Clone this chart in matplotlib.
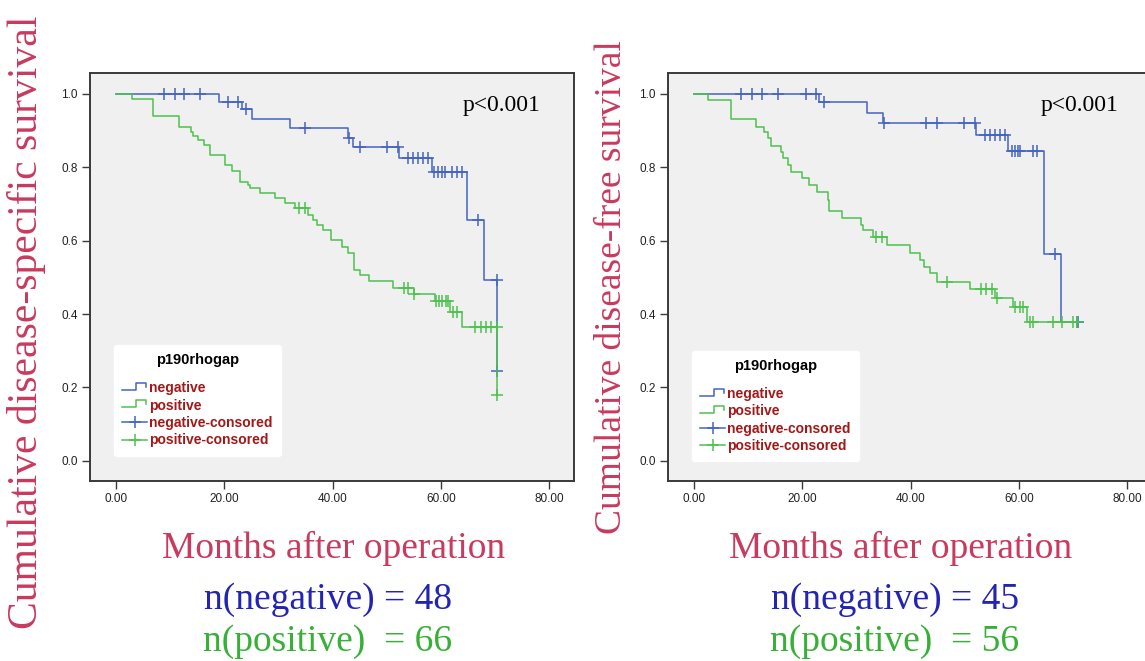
import numpy as np
import matplotlib.pyplot as plt
from matplotlib.legend_handler import HandlerBase
from matplotlib.lines import Line2D

# ---- left panel: disease-specific survival (months, survival after each event)
dss_neg_t = [19.0, 23.2, 25.2, 32.1, 42.9, 43.8, 52.3, 58.3, 64.9, 68.0, 70.4]
dss_neg_s = [0.979, 0.958, 0.931, 0.906, 0.879, 0.854, 0.826, 0.787, 0.657, 0.493, 0.246]
dss_neg_cens = [8.9, 10.9, 12.6, 15.6, 20.7, 22.5, 24.1, 35.0, 43.1, 45.1, 50.0, 52.1,
                54.0, 54.9, 55.8, 56.8, 57.7, 58.7, 59.5, 60.3, 60.8, 62.0, 62.9, 64.0,
                66.9, 70.35, 70.45]

dss_pos_t = [2.9, 6.9, 11.6, 13.9, 14.3, 15.2, 16.3, 17.4, 20.1, 21.4, 22.9, 24.4, 24.8,
             26.6, 29.4, 31.2, 33.1, 35.5, 36.4, 37.1, 38.3, 39.8, 41.7, 42.9, 43.9,
             45.0, 46.8, 51.2, 55.0, 59.0, 61.7, 64.0, 70.4]
dss_pos_s = [0.985, 0.940, 0.910, 0.897, 0.886, 0.875, 0.861, 0.834, 0.806, 0.790, 0.761,
             0.752, 0.743, 0.729, 0.716, 0.702, 0.688, 0.670, 0.656, 0.643, 0.629, 0.602,
             0.584, 0.566, 0.520, 0.507, 0.489, 0.471, 0.455, 0.436, 0.405, 0.364, 0.179]
dss_pos_cens = [33.8, 34.9, 53.2, 53.9, 55.1, 59.1, 59.7, 60.3, 60.9, 61.4, 62.3, 62.9,
                66.3, 67.5, 68.4, 69.2, 70.35, 70.45]

# ---- right panel: disease-free survival
dfs_neg_t = [23.1, 31.9, 35.0, 52.1, 58.0, 64.7, 67.8]
dfs_neg_s = [0.978, 0.947, 0.922, 0.888, 0.845, 0.563, 0.378]
dfs_neg_cens = [8.7, 10.8, 12.5, 15.6, 20.6, 22.5, 24.1, 35.1, 42.8, 44.8, 49.9, 51.9,
                53.7, 54.6, 55.6, 56.5, 57.4, 58.7, 59.3, 59.9, 60.3, 62.7, 63.3, 66.7,
                70.7, 70.9]

dfs_pos_t = [2.65, 6.8, 11.4, 12.9, 13.7, 14.2, 16.0, 16.4, 17.3, 18.0, 19.9, 21.2, 22.8,
             24.7, 25.0, 27.3, 30.8, 31.3, 33.0, 35.7, 39.9, 41.7, 42.4, 43.6, 44.9,
             50.9, 55.6, 59.0, 61.6]
dfs_pos_s = [0.984, 0.931, 0.911, 0.895, 0.879, 0.858, 0.843, 0.825, 0.806, 0.788, 0.770,
             0.752, 0.734, 0.711, 0.680, 0.661, 0.643, 0.629, 0.611, 0.589, 0.566, 0.548,
             0.529, 0.511, 0.488, 0.468, 0.443, 0.419, 0.377]
dfs_pos_cens = [33.7, 34.7, 46.8, 53.1, 54.0, 55.0, 55.9, 59.3, 60.2, 60.8, 62.0, 62.7,
                66.3, 67.9, 70.1, 70.7]

xticks = [0, 20, 40, 60, 80]
yticks = [0.0, 0.2, 0.4, 0.6, 0.8, 1.0]
legend_labels = ['negative', 'positive', 'negative-consored', 'positive-consored']

BLUE = '#4464c4'
GREEN = '#4ec24e'
TITLE_RED = '#c83a5e'
SERIF = 'Liberation Serif'
SANS = 'Liberation Sans'


class StepHandler(HandlerBase):
    def create_artists(self, legend, orig, xd, yd, w, h, fontsize, trans):
        x0, y0 = -xd, -yd
        xs = [x0, x0 + 0.55 * w, x0 + 0.55 * w, x0 + 0.97 * w, x0 + 0.97 * w]
        ys = [y0 + 0.25 * h, y0 + 0.25 * h, y0 + 0.95 * h, y0 + 0.95 * h, y0 + 0.55 * h]
        return [Line2D(xs, ys, color=orig.get_color(), lw=1.1, transform=trans)]


def km(ax, t_ev, s_ev, t_cens, color):
    t = np.r_[0.0, t_ev]
    s = np.r_[1.0, s_ev]
    t_end = max(max(t_cens), t[-1])
    ax.step(np.r_[t, t_end], np.r_[s, s[-1]], where='post', color=color, lw=1.1)
    idx = np.searchsorted(t, t_cens, side='right') - 1
    ax.plot(t_cens, s[idx], '+', color=color, ms=8, mew=1.1, ls='none')


def panel(rect, neg, pos, legend_y):
    ax = fig.add_axes(rect)
    ax.set_facecolor('#f0f0f0')
    km(ax, *neg, BLUE)
    km(ax, *pos, GREEN)
    ax.set_xlim(-4.8, 84.6)
    ax.set_ylim(-0.055, 1.057)
    ax.set_xticks(xticks)
    ax.set_xticklabels(['%.2f' % v for v in xticks])
    ax.set_yticks(yticks)
    ax.set_yticklabels(['%.1f' % v for v in yticks])
    for sp in ax.spines.values():
        sp.set_color('#3a3a3a')
        sp.set_linewidth(1.4)
    ax.tick_params(direction='out', length=6, width=1, color='#3a3a3a',
                   labelsize=8.5, labelcolor='#222222', pad=3)
    for lab in ax.get_xticklabels() + ax.get_yticklabels():
        lab.set_fontfamily(SANS)
    ax.text(0.93, 0.92, 'p<0.001', transform=ax.transAxes, ha='right', va='center',
            fontsize=17, family=SERIF)

    h_neg = Line2D([], [], color=BLUE)
    h_pos = Line2D([], [], color=GREEN)
    h_negc = Line2D([], [], color=BLUE, marker='+', ms=9, mew=1.1, lw=1.1)
    h_posc = Line2D([], [], color=GREEN, marker='+', ms=9, mew=1.1, lw=1.1)
    leg = ax.legend([h_neg, h_pos, h_negc, h_posc], legend_labels,
                    handler_map={h_neg: StepHandler(), h_pos: StepHandler()},
                    loc='lower left', bbox_to_anchor=(0.035, legend_y),
                    title='p190rhogap', numpoints=1, handlelength=1.8,
                    handletextpad=0.12, labelspacing=0.24, borderpad=0.6,
                    fancybox=True, framealpha=1, facecolor='white', edgecolor='white',
                    prop={'family': SANS, 'weight': 'bold', 'size': 10},
                    title_fontproperties={'family': SANS, 'weight': 'bold', 'size': 10.5},
                    labelcolor='#a31818')
    leg._legend_box.sep = 10
    return ax


fig = plt.figure(figsize=(11.45, 6.61), dpi=100)

panel([90 / 1145, 1 - 481 / 661, 484 / 1145, 408 / 661],
      (dss_neg_t, dss_neg_s, dss_neg_cens), (dss_pos_t, dss_pos_s, dss_pos_cens), 0.045)
panel([668 / 1145, 1 - 481 / 661, 484 / 1145, 408 / 661],
      (dfs_neg_t, dfs_neg_s, dfs_neg_cens), (dfs_pos_t, dfs_pos_s, dfs_pos_cens), 0.031)

# axis titles and group sizes drawn as figure text
fig.text(27 / 1145, 1 - 322 / 661, 'Cumulative disease-specific survival', rotation=90,
         ha='center', va='center', fontsize=30, family=SERIF, color=TITLE_RED)
fig.text(612 / 1145, 1 - 287 / 661, 'Cumulative disease-free survival', rotation=90,
         ha='center', va='center', fontsize=27, family=SERIF, color=TITLE_RED)

for xc, n_neg, n_pos in [(334, 48, 66), (901, 45, 56)]:
    fig.text(xc / 1145, 1 - 548 / 661, 'Months after operation', ha='center', va='center',
             fontsize=27, family=SERIF, color=TITLE_RED)
    fig.text((xc - 6) / 1145, 1 - 600 / 661, 'n(negative) = %d' % n_neg, ha='center',
             va='center', fontsize=27, family=SERIF, color='#2424b4')
    fig.text((xc - 6) / 1145, 1 - 642 / 661, 'n(positive)  = %d' % n_pos, ha='center',
             va='center', fontsize=27, family=SERIF, color='#38b038')

fig.savefig('out.png', dpi=100)
